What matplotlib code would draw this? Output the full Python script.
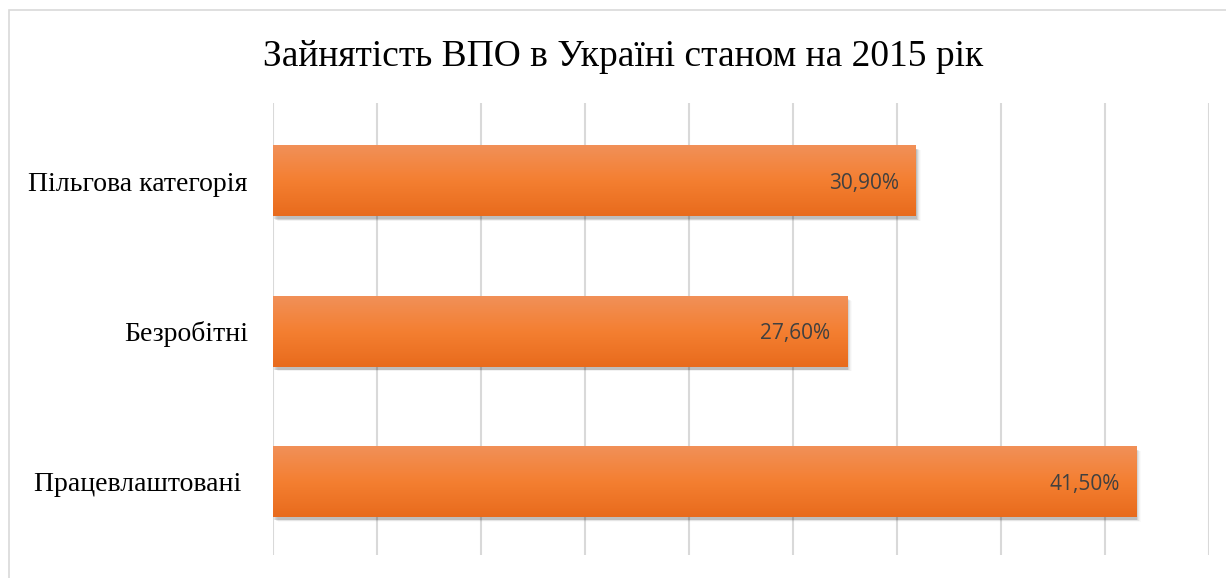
import numpy as np
import matplotlib.pyplot as plt
from matplotlib.colors import LinearSegmentedColormap
from matplotlib.patches import Rectangle

# Дані діаграми
categories = ['Пільгова категорія', 'Безробітні', 'Працевлаштовані ']
values = [30.9, 27.6, 41.5]
value_labels = ['30,90%', '27,60%', '41,50%']
title = 'Зайнятість ВПО в Україні станом на 2015 рік'

W, H = 1226, 578
fig = plt.figure(figsize=(W / 100, H / 100), dpi=100)

# рамка діаграми
fig.patches.append(Rectangle((9 / W, -0.1), 1.2, 1 - 10 / H + 0.1,
                             transform=fig.transFigure, fill=False,
                             edgecolor='#D9D9D9', linewidth=1.2))

ax = fig.add_axes([273 / W, 1 - 555 / H, (1209 - 273) / W, (555 - 103) / H])
for s in ax.spines.values():
    s.set_visible(False)

y = np.arange(len(categories))
bars = ax.barh(y, values, height=0.47, color='none', zorder=3)

ax.set_xlim(0, 45)
ax.set_ylim(2.487, -0.52)
ax.set_xticks(np.arange(0, 46, 5))
ax.set_xticklabels([])
ax.tick_params(axis='x', length=0)
ax.tick_params(axis='y', length=0, pad=18)
ax.grid(axis='x', color='#D9D9D9', linewidth=1.5, zorder=0)
ax.set_yticks(y)
ax.set_yticklabels(categories, family='Liberation Serif', fontsize=20, color='black')

cmap = LinearSegmentedColormap.from_list('og', ['#F19058', '#F47F31', '#E86B1D'])
grad = np.linspace(0, 1, 100).reshape(-1, 1)

for b, lab in zip(bars, value_labels):
    x0, y0, w, h = b.get_x(), b.get_y(), b.get_width(), b.get_height()
    # тінь
    for k, a in enumerate([0.10, 0.07, 0.05, 0.03, 0.02]):
        d = 0.05 + k * 0.05
        ax.add_patch(Rectangle((x0 + d, y0 + d * 0.06 + 0.015), w, h,
                               facecolor='black', alpha=a, linewidth=0, zorder=2))
    ax.imshow(grad, cmap=cmap, aspect='auto', extent=(x0, x0 + w, y0 + h, y0),
              interpolation='bicubic', zorder=4)
    ax.text(x0 + w - 0.8, y0 + h / 2 + 0.015, lab, ha='right', va='center',
            fontsize=15, family='Open Sans', color='#404040', zorder=5)

ax.set_xlim(0, 45)
ax.set_ylim(2.487, -0.52)

fig.text(623 / W, 1 - 57 / H, title, ha='center', va='center',
         family='Liberation Serif', fontsize=27, color='black')

fig.savefig('out.png', dpi=100)
